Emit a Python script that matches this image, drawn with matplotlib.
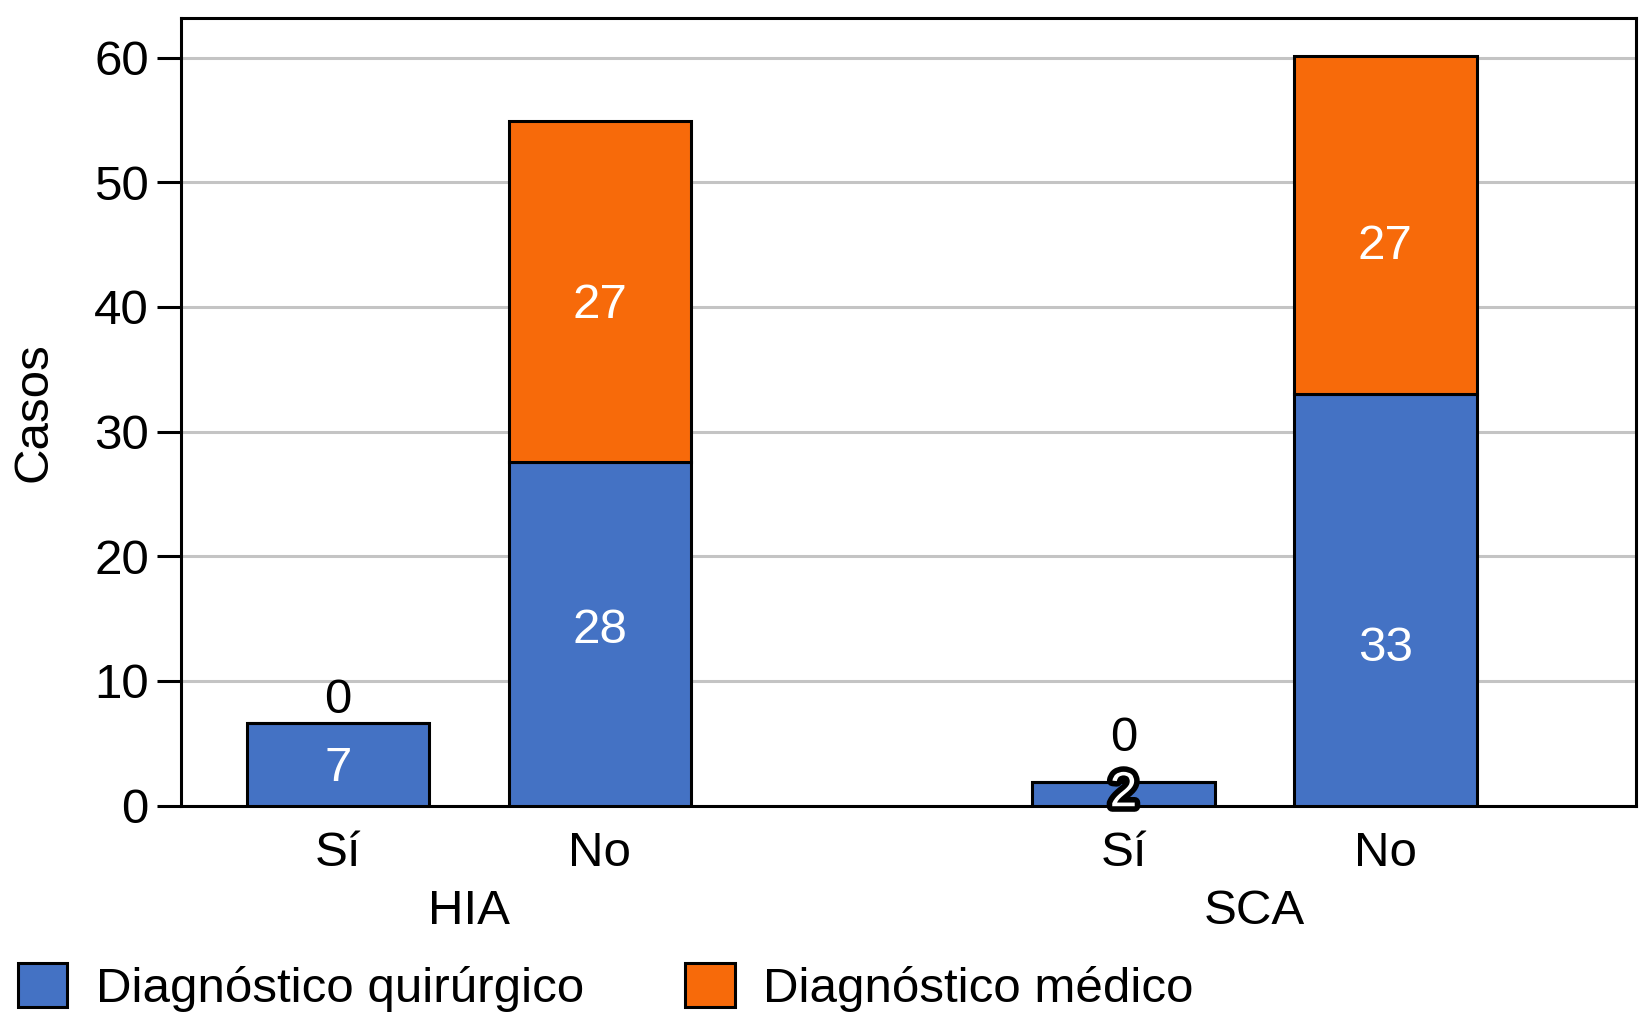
import matplotlib
matplotlib.use("Agg")
import matplotlib.pyplot as plt
import matplotlib.patheffects as pe
from matplotlib.patches import Patch
from matplotlib.transforms import blended_transform_factory, offset_copy

# ---- data ----
groups = ["HIA", "SCA"]
subcats = ["Sí", "No", "Sí", "No"]
quirurgico = [6.6, 27.6, 1.9, 33.0]
medico = [0.0, 27.3, 0.0, 27.1]
lab_quir = ["7", "28", "2", "33"]
lab_med = ["0", "27", "0", "27"]
series_names = ["Diagnóstico quirúrgico", "Diagnóstico médico"]
yticks = [0, 10, 20, 30, 40, 50, 60]

# ---- style ----
BLUE = "#4472C4"
ORANGE = "#F76A0A"
FS = 35.5
plt.rcParams["font.family"] = ["Liberation Sans", "DejaVu Sans"]

fig = plt.figure(figsize=(16.39, 10.24), dpi=100)
ax = fig.add_axes([0.1103, 0.2133, 0.998 - 0.1103, 0.9827 - 0.2133])

xpos = [0, 1, 3, 4]
group_centers = [0.5, 3.5]
width = 0.696

ax.bar(xpos, quirurgico, width, color=BLUE, edgecolor="black", linewidth=2.2, zorder=3)
ax.bar(xpos, medico, width, bottom=quirurgico, color=ORANGE, edgecolor="black",
       linewidth=2.2, zorder=3)

# label offsets (points) relative to segment centre, purely for placement
quir_off = [-3, 2, 0, -35]
med_off = [16.5, -10.5, 31, -15]

for i, x in enumerate(xpos):
    q = quirurgico[i]
    m = medico[i]
    t = offset_copy(ax.transData, fig=fig, x=0, y=quir_off[i], units="points")
    txt = ax.text(x, q / 2, lab_quir[i], ha="center", va="center", color="white",
                  fontsize=FS, transform=t, zorder=5)
    if q < 4:
        txt.set_path_effects([pe.withStroke(linewidth=8, foreground="black")])
    t2 = offset_copy(ax.transData, fig=fig, x=0, y=med_off[i], units="points")
    if m > 0:
        ax.text(x, q + m / 2, lab_med[i], ha="center", va="center", color="white",
                fontsize=FS, transform=t2, zorder=5)
    else:
        ax.text(x, q + m, lab_med[i], ha="center", va="center", color="black",
                fontsize=FS, transform=t2, zorder=5)

ax.set_xlim(-0.6, 4.956)
ax.set_ylim(0, 63.2)
ax.set_yticks(yticks)
ax.set_yticklabels([str(v) for v in yticks], fontsize=FS)
ax.set_xticks(xpos)
ax.set_xticklabels(subcats, fontsize=FS)
ax.tick_params(axis="x", length=0, pad=18)
ax.tick_params(axis="y", length=17, width=2.2, pad=6, direction="out")
ax.yaxis.grid(True, color="#c4c4c4", linewidth=2.2, zorder=0)
ax.set_axisbelow(True)
for s in ax.spines.values():
    s.set_linewidth(2.2)

ax.set_ylabel("Casos", fontsize=FS)
ax.yaxis.set_label_coords(-0.1006, 0.5)
ax.yaxis.label.set_va("center")

tb = blended_transform_factory(ax.transData, fig.transFigure)
for gx, g in zip(group_centers, groups):
    ax.text(gx, 0.110, g, ha="center", va="center", fontsize=FS, transform=tb)

handles = [Patch(facecolor=BLUE, edgecolor="black", linewidth=2.2),
           Patch(facecolor=ORANGE, edgecolor="black", linewidth=2.2)]
fig.legend(handles, series_names, loc="center left", bbox_to_anchor=(0.011, 0.036),
           ncol=2, frameon=False, fontsize=FS, handlelength=1.0, handleheight=1.0,
           handletextpad=0.58, columnspacing=2.05, borderpad=0, borderaxespad=0)

fig.savefig("out.png", dpi=100)
